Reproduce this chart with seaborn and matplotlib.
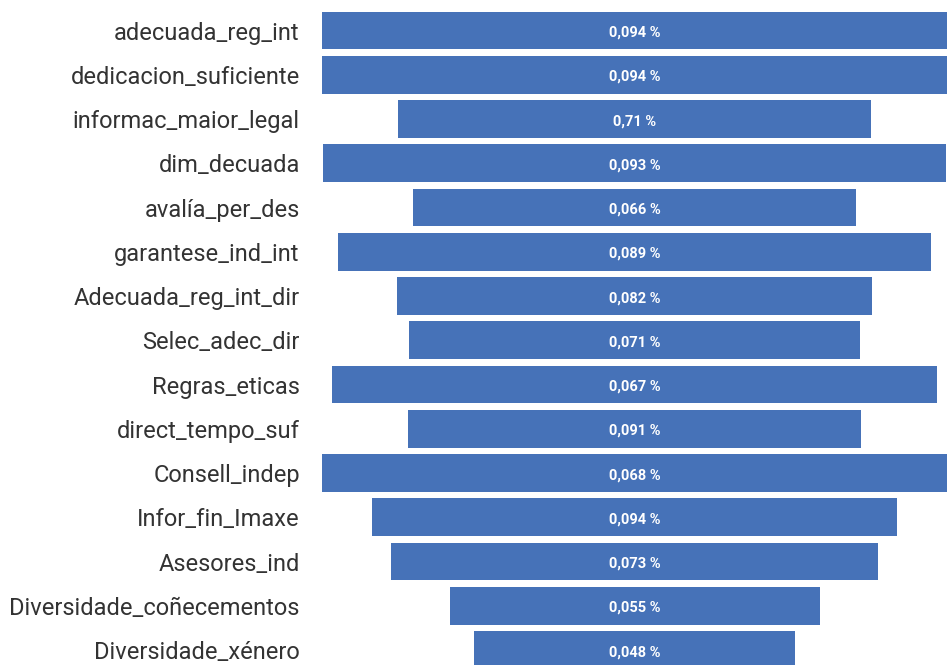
import pandas as pd
import matplotlib.pyplot as plt
import seaborn as sns

# Datos do funil (ancho de cada barra, centradas)
categorias = ["adecuada_reg_int", "dedicacion_suficiente", "informac_maior_legal",
              "dim_decuada", "avalía_per_des", "garantese_ind_int",
              "Adecuada_reg_int_dir", "Selec_adec_dir", "Regras_eticas",
              "direct_tempo_suf", "Consell_indep", "Infor_fin_Imaxe",
              "Asesores_ind", "Diversidade_coñecementos", "Diversidade_xénero"]
anchos = [625, 626, 473, 622, 442, 592, 474, 450, 605, 452, 625, 524, 486, 370, 321]
etiquetas = ["0,094 %", "0,094 %", "0,71 %", "0,093 %", "0,066 %", "0,089 %",
             "0,082 %", "0,071 %", "0,067 %", "0,091 %", "0,068 %", "0,094 %",
             "0,073 %", "0,055 %", "0,048 %"]

df = pd.DataFrame({"variable": categorias, "ancho": anchos})
df["dereita"] = df["ancho"] / 2
df["esquerda"] = -df["ancho"] / 2

sns.set_style("white")
plt.rcParams["font.family"] = ["Roboto", "DejaVu Sans"]

azul = "#4672B8"
fig = plt.figure(figsize=(9.47, 6.65), dpi=100)
ax = fig.add_axes([322 / 947, -0.01075, 625 / 947, 0.99812])

# cada barra debuxase en duas metades arredor do centro
sns.barplot(data=df, x="dereita", y="variable", color=azul, saturation=1,
            width=0.85, errorbar=None, linewidth=0, ax=ax)
sns.barplot(data=df, x="esquerda", y="variable", color=azul, saturation=1,
            width=0.85, errorbar=None, linewidth=0, ax=ax)

for i, txt in enumerate(etiquetas):
    ax.text(0, i + 0.05, txt, ha="center", va="center", color="white",
            fontsize=10.5, fontweight="bold")

ax.set_xlim(-312.5, 312.5)
ax.set_ylim(len(categorias) - 0.5, -0.5)
ax.set_xlabel("")
ax.set_ylabel("")
ax.set_xticks([])
ax.tick_params(axis="y", length=0, pad=16, labelsize=17, labelcolor="#333333")
sns.despine(ax=ax, left=True, bottom=True)

plt.savefig("out.png", dpi=100)
plt.close()
